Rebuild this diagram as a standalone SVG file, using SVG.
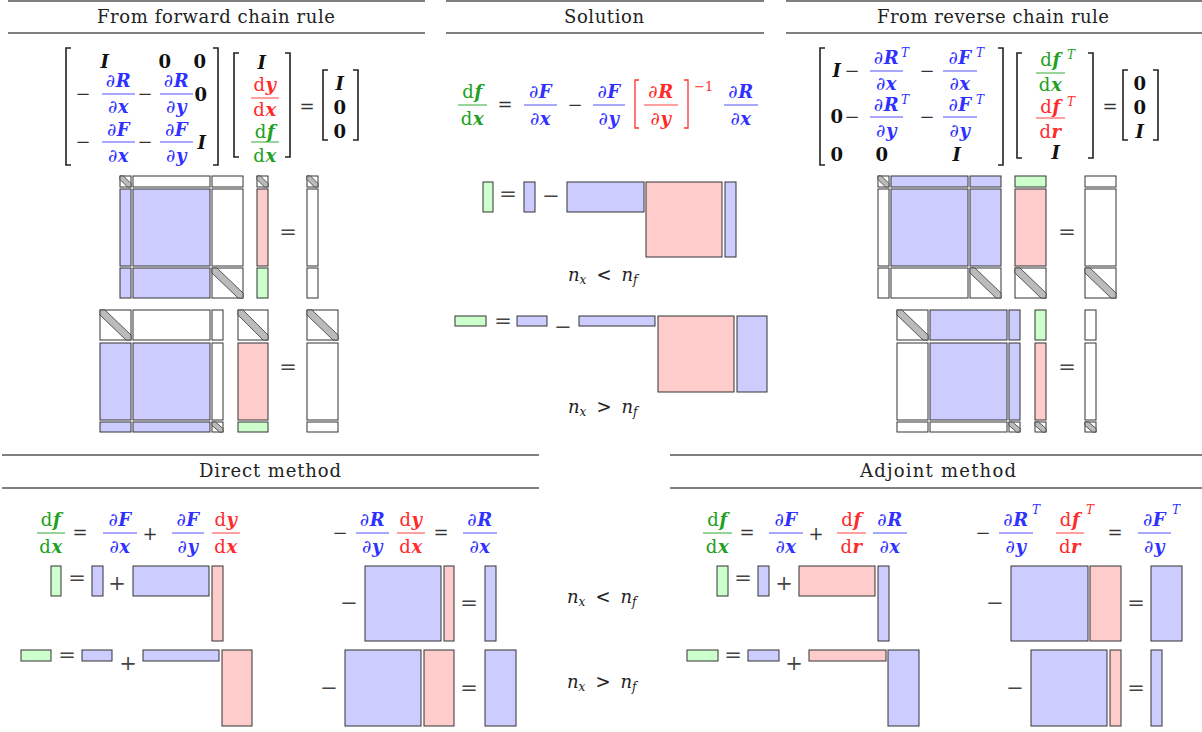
<svg xmlns="http://www.w3.org/2000/svg" width="1202" height="732" viewBox="0 0 1202 732">
<style>
rect{stroke:#333;stroke-width:1}
.bl{fill:#ccccff}.rd{fill:#ffcccc}.gr{fill:#ccffcc}.wh{fill:#fff}
.dg{fill:#bbb;stroke:#333;stroke-width:0.8}
.hl{stroke:#555;stroke-width:1.4}
.hd{font-family:"DejaVu Serif",serif;font-size:18px;fill:#222;text-anchor:middle}
.m{font-family:"DejaVu Serif",serif;font-size:18px;text-anchor:middle;letter-spacing:0.5px}
.bi{font-weight:bold;font-style:italic}
.bo{font-weight:bold}
.k{fill:#111}.tb{fill:#3030ff}.tr{fill:#ff2a2a}.tg{fill:#22a022}
.sp{font-family:"DejaVu Serif",serif;font-size:12px;font-style:italic}
.fb{stroke:#5050ff;stroke-width:1}.fr{stroke:#ff4040;stroke-width:1}.fg{stroke:#33aa33;stroke-width:1}
.om{font-family:"DejaVu Serif",serif;font-size:18px;fill:#333;text-anchor:middle}
.ob{font-family:"DejaVu Serif",serif;font-size:21px;fill:#444;text-anchor:middle}
.brk{fill:none;stroke:#222;stroke-width:1.6}
.nl{font-family:"DejaVu Serif",serif;font-size:18px;font-style:italic;fill:#222}
.ss{font-size:12px}
</style>

<g id="headers">
<line class="hl" x1="8" y1="1" x2="425" y2="1"/><line class="hl" x1="8" y1="33" x2="425" y2="33"/>
<text class="hd" x="216" y="23" textLength="238" lengthAdjust="spacing">From forward chain rule</text>
<line class="hl" x1="446" y1="1" x2="764" y2="1"/><line class="hl" x1="446" y1="33" x2="764" y2="33"/>
<text class="hd" x="604" y="23" textLength="80" lengthAdjust="spacing">Solution</text>
<line class="hl" x1="786" y1="1" x2="1202" y2="1"/><line class="hl" x1="786" y1="33" x2="1202" y2="33"/>
<text class="hd" x="993" y="23" textLength="232" lengthAdjust="spacing">From reverse chain rule</text>
<line class="hl" x1="2" y1="455" x2="539" y2="455"/><line class="hl" x1="2" y1="488" x2="539" y2="488"/>
<text class="hd" x="270" y="477" textLength="142" lengthAdjust="spacing">Direct method</text>
<line class="hl" x1="670" y1="455" x2="1202" y2="455"/><line class="hl" x1="670" y1="488" x2="1202" y2="488"/>
<text class="hd" x="938" y="477" textLength="156" lengthAdjust="spacing">Adjoint method</text>
</g>

<g id="forward-equation">
<path class="brk" d="M71,48 H66 V165 H71"/><path class="brk" d="M213,48 H218 V165 H213"/>
<text class="m bi k" x="105" y="68">I</text>
<text class="m bo k" x="165" y="68">0</text><text class="m bo k" x="200" y="68">0</text>
<text class="om" x="83" y="100">−</text>
<text class="m tb" x="118.5" y="87">∂<tspan class="bi">R</tspan></text><line class="fb" x1="102" y1="94" x2="135" y2="94"/><text class="m tb" x="118.5" y="113">∂<tspan class="bi">x</tspan></text>
<text class="om" x="145" y="100">−</text>
<text class="m tb" x="176.5" y="87">∂<tspan class="bi">R</tspan></text><line class="fb" x1="160" y1="94" x2="193" y2="94"/><text class="m tb" x="176.5" y="113">∂<tspan class="bi">y</tspan></text>
<text class="m bo k" x="201" y="101">0</text>
<text class="om" x="83" y="148">−</text>
<text class="m tb" x="118.5" y="136">∂<tspan class="bi">F</tspan></text><line class="fb" x1="102" y1="142" x2="135" y2="142"/><text class="m tb" x="118.5" y="162">∂<tspan class="bi">x</tspan></text>
<text class="om" x="145" y="148">−</text>
<text class="m tb" x="176.5" y="136">∂<tspan class="bi">F</tspan></text><line class="fb" x1="160" y1="142" x2="193" y2="142"/><text class="m tb" x="176.5" y="162">∂<tspan class="bi">y</tspan></text>
<text class="m bi k" x="202" y="149">I</text>
<path class="brk" d="M239,53 H234 V157 H239"/><path class="brk" d="M285,53 H290 V157 H285"/>
<text class="m bi k" x="262" y="69">I</text>
<text class="m tr" x="265" y="91">d<tspan class="bi">y</tspan></text><line class="fr" x1="251" y1="98" x2="279" y2="98"/><text class="m tr" x="265" y="116">d<tspan class="bi">x</tspan></text>
<text class="m tg" x="265" y="138">d<tspan class="bi">f</tspan></text><line class="fg" x1="251" y1="142" x2="279" y2="142"/><text class="m tg" x="265" y="162">d<tspan class="bi">x</tspan></text>
<text class="om" x="307" y="113">=</text>
<path class="brk" d="M328,70 H323 V140 H328"/><path class="brk" d="M353,70 H358 V140 H353"/>
<text class="m bi k" x="340" y="90">I</text><text class="m bo k" x="340" y="114">0</text><text class="m bo k" x="340" y="138">0</text>
</g>

<g id="solution-equation">
<text class="m tg" x="472.5" y="98">d<tspan class="bi">f</tspan></text><line class="fg" x1="458" y1="105" x2="487" y2="105"/><text class="m tg" x="472.5" y="125">d<tspan class="bi">x</tspan></text>
<text class="om" x="505" y="111">=</text>
<text class="m tb" x="540.5" y="98">∂<tspan class="bi">F</tspan></text><line class="fb" x1="524" y1="105" x2="557" y2="105"/><text class="m tb" x="540.5" y="125">∂<tspan class="bi">x</tspan></text>
<text class="om" x="575" y="111">−</text>
<text class="m tb" x="609" y="98">∂<tspan class="bi">F</tspan></text><line class="fb" x1="593" y1="105" x2="625" y2="105"/><text class="m tb" x="609" y="125">∂<tspan class="bi">y</tspan></text>
<path d="M639,80 H635 V128 H639" fill="none" stroke="#ff3030" stroke-width="1.3"/><path d="M684,80 H688 V128 H684" fill="none" stroke="#ff3030" stroke-width="1.3"/>
<text class="m tr" x="661" y="98">∂<tspan class="bi">R</tspan></text><line class="fr" x1="644" y1="105" x2="678" y2="105"/><text class="m tr" x="661" y="125">∂<tspan class="bi">y</tspan></text>
<text x="694" y="91" font-family="DejaVu Serif, serif" font-size="13" class="tr">−1</text>
<text class="m tb" x="741" y="98">∂<tspan class="bi">R</tspan></text><line class="fb" x1="724" y1="105" x2="758" y2="105"/><text class="m tb" x="741" y="125">∂<tspan class="bi">x</tspan></text>
</g>

<g id="reverse-equation">
<path class="brk" d="M825,48 H820 V165 H825"/><path class="brk" d="M998,48 H1003 V165 H998"/>
<text class="m bi k" x="837" y="77">I</text><text class="om" x="852" y="77">−</text>
<text class="m tb" x="886.5" y="64">∂<tspan class="bi">R</tspan></text><text class="sp tb" x="901" y="57">T</text><line class="fb" x1="870" y1="71" x2="903" y2="71"/><text class="m tb" x="886.5" y="90">∂<tspan class="bi">x</tspan></text>
<text class="om" x="927" y="77">−</text>
<text class="m tb" x="960" y="64">∂<tspan class="bi">F</tspan></text><text class="sp tb" x="976" y="57">T</text><line class="fb" x1="943" y1="71" x2="977" y2="71"/><text class="m tb" x="960" y="90">∂<tspan class="bi">x</tspan></text>
<text class="m bo k" x="837" y="123">0</text><text class="om" x="852" y="123">−</text>
<text class="m tb" x="886.5" y="111">∂<tspan class="bi">R</tspan></text><text class="sp tb" x="901" y="104">T</text><line class="fb" x1="870" y1="117" x2="903" y2="117"/><text class="m tb" x="886.5" y="137">∂<tspan class="bi">y</tspan></text>
<text class="om" x="927" y="123">−</text>
<text class="m tb" x="960" y="111">∂<tspan class="bi">F</tspan></text><text class="sp tb" x="976" y="104">T</text><line class="fb" x1="943" y1="117" x2="977" y2="117"/><text class="m tb" x="960" y="137">∂<tspan class="bi">y</tspan></text>
<text class="m bo k" x="837" y="161">0</text><text class="m bo k" x="882" y="161">0</text><text class="m bi k" x="957" y="161">I</text>
<path class="brk" d="M1022,53 H1017 V158 H1022"/><path class="brk" d="M1088,53 H1093 V158 H1088"/>
<text class="m tg" x="1050.5" y="66">d<tspan class="bi">f</tspan></text><text class="sp tg" x="1067" y="59">T</text><line class="fg" x1="1036" y1="73" x2="1065" y2="73"/><text class="m tg" x="1050.5" y="91">d<tspan class="bi">x</tspan></text>
<text class="m tr" x="1050.5" y="113">d<tspan class="bi">f</tspan></text><text class="sp tr" x="1067" y="106">T</text><line class="fr" x1="1036" y1="118" x2="1065" y2="118"/><text class="m tr" x="1050.5" y="138">d<tspan class="bi">r</tspan></text>
<text class="m bi k" x="1056" y="159">I</text>
<text class="om" x="1110" y="113">=</text>
<path class="brk" d="M1128,70 H1123 V140 H1128"/><path class="brk" d="M1153,70 H1158 V140 H1153"/>
<text class="m bo k" x="1140" y="90">0</text><text class="m bo k" x="1140" y="114">0</text><text class="m bi k" x="1140" y="138">I</text>
</g>

<g id="forward-blocks">
<rect class="wh" x="120" y="176" width="11" height="11"/><polygon class="dg" points="120,176 123.5,176 131,183.5 131,187 127.5,187 120,179.5"/>
<rect class="wh" x="133" y="176" width="77" height="11"/><rect class="wh" x="212" y="176" width="31" height="11"/>
<rect class="wh" x="257" y="176" width="11" height="11"/><polygon class="dg" points="257,176 260.5,176 268,183.5 268,187 264.5,187 257,179.5"/>
<rect class="wh" x="307" y="176" width="11" height="11"/><polygon class="dg" points="307,176 310.5,176 318,183.5 318,187 314.5,187 307,179.5"/>
<rect class="bl" x="120" y="189" width="11" height="77"/><rect class="bl" x="133" y="189" width="77" height="77"/><rect class="wh" x="212" y="189" width="31" height="77"/>
<rect class="rd" x="257" y="189" width="11" height="77"/><rect class="wh" x="307" y="189" width="11" height="77"/>
<rect class="bl" x="120" y="268" width="11" height="30"/><rect class="bl" x="133" y="268" width="77" height="30"/>
<rect class="wh" x="212" y="268" width="31" height="30"/><polygon class="dg" points="212,268 217,268 243,293 243,298 238,298 212,273"/>
<rect class="gr" x="257" y="268" width="11" height="30"/><rect class="wh" x="307" y="268" width="11" height="30"/>
<text class="ob" x="288" y="239">=</text>

<rect class="wh" x="100" y="310" width="31" height="30"/><polygon class="dg" points="100,310 105,310 131,335 131,340 126,340 100,315"/>
<rect class="wh" x="133" y="310" width="77" height="30"/><rect class="wh" x="212" y="310" width="11" height="30"/>
<rect class="wh" x="238" y="310" width="30" height="30"/><polygon class="dg" points="238,310 243,310 268,335 268,340 263,340 238,315"/>
<rect class="wh" x="307" y="310" width="31" height="30"/><polygon class="dg" points="307,310 312,310 338,335 338,340 333,340 307,315"/>
<rect class="bl" x="100" y="343" width="31" height="77"/><rect class="bl" x="133" y="343" width="77" height="77"/><rect class="wh" x="212" y="343" width="11" height="77"/>
<rect class="rd" x="238" y="343" width="30" height="77"/><rect class="wh" x="307" y="343" width="31" height="77"/>
<rect class="bl" x="100" y="422" width="31" height="10"/><rect class="bl" x="133" y="422" width="77" height="10"/>
<rect class="wh" x="212" y="422" width="11" height="10"/><polygon class="dg" points="212,422 215.5,422 223,428.5 223,432 219.5,432 212,425.5"/>
<rect class="gr" x="238" y="422" width="30" height="10"/><rect class="wh" x="307" y="422" width="31" height="10"/>
<text class="ob" x="288" y="374">=</text>
</g>

<g id="solution-blocks">
<rect class="gr" x="483" y="182" width="10" height="30"/>
<text class="ob" x="508" y="201">=</text>
<rect class="bl" x="524" y="182" width="11" height="30"/>
<text class="ob" x="551" y="203">−</text>
<rect class="bl" x="567" y="182" width="77" height="30"/>
<rect class="rd" x="646" y="182" width="76" height="75"/>
<rect class="bl" x="725" y="182" width="11" height="75"/>
<text class="nl" x="568" y="281">n<tspan class="ss" dy="3">x</tspan><tspan dy="-3" dx="10" font-style="normal">&lt;</tspan><tspan dx="10">n</tspan><tspan class="ss" dy="3">f</tspan></text>
<rect class="gr" x="455" y="316" width="31" height="10"/>
<text class="ob" x="503" y="328">=</text>
<rect class="bl" x="517" y="316" width="30" height="10"/>
<text class="ob" x="563" y="334">−</text>
<rect class="bl" x="579" y="316" width="76" height="10"/>
<rect class="rd" x="658" y="316" width="76" height="76"/>
<rect class="bl" x="737" y="316" width="30" height="76"/>
<text class="nl" x="568" y="413">n<tspan class="ss" dy="3">x</tspan><tspan dy="-3" dx="10" font-style="normal">&gt;</tspan><tspan dx="10">n</tspan><tspan class="ss" dy="3">f</tspan></text>
</g>

<g id="reverse-blocks">
<rect class="wh" x="878" y="176" width="11" height="11"/><polygon class="dg" points="878,176 881.5,176 889,183.5 889,187 885.5,187 878,179.5"/>
<rect class="bl" x="891" y="176" width="77" height="11"/><rect class="bl" x="970" y="176" width="31" height="11"/>
<rect class="gr" x="1015" y="176" width="31" height="11"/><rect class="wh" x="1085" y="176" width="31" height="11"/>
<rect class="wh" x="878" y="189" width="11" height="77"/><rect class="bl" x="891" y="189" width="77" height="77"/><rect class="bl" x="970" y="189" width="31" height="77"/>
<rect class="rd" x="1015" y="189" width="31" height="77"/><rect class="wh" x="1085" y="189" width="31" height="77"/>
<rect class="wh" x="878" y="268" width="11" height="30"/><rect class="wh" x="891" y="268" width="77" height="30"/>
<rect class="wh" x="970" y="268" width="31" height="30"/><polygon class="dg" points="970,268 975,268 1001,293 1001,298 996,298 970,273"/>
<rect class="wh" x="1015" y="268" width="31" height="30"/><polygon class="dg" points="1015,268 1020,268 1046,293 1046,298 1041,298 1015,273"/>
<rect class="wh" x="1085" y="268" width="31" height="30"/><polygon class="dg" points="1085,268 1090,268 1116,293 1116,298 1111,298 1085,273"/>
<text class="ob" x="1067" y="239">=</text>

<rect class="wh" x="897" y="310" width="31" height="30"/><polygon class="dg" points="897,310 902,310 928,335 928,340 923,340 897,315"/>
<rect class="bl" x="930" y="310" width="77" height="30"/><rect class="bl" x="1009" y="310" width="11" height="30"/>
<rect class="gr" x="1035" y="310" width="11" height="30"/><rect class="wh" x="1085" y="310" width="11" height="30"/>
<rect class="wh" x="897" y="343" width="31" height="77"/><rect class="bl" x="930" y="343" width="77" height="77"/><rect class="bl" x="1009" y="343" width="11" height="77"/>
<rect class="rd" x="1035" y="343" width="11" height="77"/><rect class="wh" x="1085" y="343" width="11" height="77"/>
<rect class="wh" x="897" y="422" width="31" height="10"/><rect class="wh" x="930" y="422" width="77" height="10"/>
<rect class="wh" x="1009" y="422" width="11" height="10"/><polygon class="dg" points="1009,422 1012.5,422 1020,428.5 1020,432 1016.5,432 1009,425.5"/>
<rect class="wh" x="1035" y="422" width="11" height="10"/><polygon class="dg" points="1035,422 1038.5,422 1046,428.5 1046,432 1042.5,432 1035,425.5"/>
<rect class="wh" x="1085" y="422" width="11" height="10"/><polygon class="dg" points="1085,422 1088.5,422 1096,428.5 1096,432 1092.5,432 1085,425.5"/>
<text class="ob" x="1067" y="374">=</text>
</g>

<g id="direct-method">
<text class="m tg" x="51" y="526">d<tspan class="bi">f</tspan></text><line class="fg" x1="37" y1="533" x2="65" y2="533"/><text class="m tg" x="51" y="553">d<tspan class="bi">x</tspan></text>
<text class="om" x="80" y="539">=</text>
<text class="m tb" x="120" y="526">∂<tspan class="bi">F</tspan></text><line class="fb" x1="103" y1="533" x2="137" y2="533"/><text class="m tb" x="120" y="553">∂<tspan class="bi">x</tspan></text>
<text class="om" x="150" y="540">+</text>
<text class="m tb" x="188" y="526">∂<tspan class="bi">F</tspan></text><line class="fb" x1="172" y1="533" x2="204" y2="533"/><text class="m tb" x="188" y="553">∂<tspan class="bi">y</tspan></text>
<text class="m tr" x="226" y="526">d<tspan class="bi">y</tspan></text><line class="fr" x1="212" y1="533" x2="240" y2="533"/><text class="m tr" x="226" y="553">d<tspan class="bi">x</tspan></text>

<rect class="gr" x="51" y="566" width="10" height="30"/>
<text class="ob" x="77" y="585">=</text>
<rect class="bl" x="92" y="566" width="11" height="30"/>
<text class="ob" x="117" y="590">+</text>
<rect class="bl" x="133" y="566" width="76" height="30"/>
<rect class="rd" x="212" y="566" width="11" height="75"/>
<rect class="gr" x="21" y="650" width="30" height="11"/>
<text class="ob" x="67" y="662">=</text>
<rect class="bl" x="82" y="650" width="30" height="11"/>
<text class="ob" x="128" y="670">+</text>
<rect class="bl" x="143" y="650" width="76" height="11"/>
<rect class="rd" x="222" y="650" width="30" height="76"/>

<text class="om" x="340" y="539">−</text>
<text class="m tb" x="372.5" y="526">∂<tspan class="bi">R</tspan></text><line class="fb" x1="356" y1="533" x2="389" y2="533"/><text class="m tb" x="372.5" y="553">∂<tspan class="bi">y</tspan></text>
<text class="m tr" x="411" y="526">d<tspan class="bi">y</tspan></text><line class="fr" x1="397" y1="533" x2="425" y2="533"/><text class="m tr" x="411" y="553">d<tspan class="bi">x</tspan></text>
<text class="om" x="441" y="539">=</text>
<text class="m tb" x="480" y="526">∂<tspan class="bi">R</tspan></text><line class="fb" x1="463" y1="533" x2="497" y2="533"/><text class="m tb" x="480" y="553">∂<tspan class="bi">x</tspan></text>

<text class="ob" x="349" y="610">−</text>
<rect class="bl" x="365" y="566" width="76" height="75"/><rect class="rd" x="444" y="566" width="10" height="75"/>
<text class="ob" x="469" y="610">=</text>
<rect class="bl" x="485" y="566" width="11" height="75"/>
<text class="ob" x="329" y="695">−</text>
<rect class="bl" x="345" y="650" width="76" height="76"/><rect class="rd" x="424" y="650" width="30" height="76"/>
<text class="ob" x="469" y="695">=</text>
<rect class="bl" x="485" y="650" width="31" height="76"/>
</g>

<g id="size-labels">
<text class="nl" x="567" y="603">n<tspan class="ss" dy="3">x</tspan><tspan dy="-3" dx="10" font-style="normal">&lt;</tspan><tspan dx="10">n</tspan><tspan class="ss" dy="3">f</tspan></text>
<text class="nl" x="567" y="688">n<tspan class="ss" dy="3">x</tspan><tspan dy="-3" dx="10" font-style="normal">&gt;</tspan><tspan dx="10">n</tspan><tspan class="ss" dy="3">f</tspan></text>
</g>

<g id="adjoint-method">
<text class="m tg" x="717.5" y="526">d<tspan class="bi">f</tspan></text><line class="fg" x1="703" y1="533" x2="732" y2="533"/><text class="m tg" x="717.5" y="553">d<tspan class="bi">x</tspan></text>
<text class="om" x="747" y="539">=</text>
<text class="m tb" x="786" y="526">∂<tspan class="bi">F</tspan></text><line class="fb" x1="769" y1="533" x2="803" y2="533"/><text class="m tb" x="786" y="553">∂<tspan class="bi">x</tspan></text>
<text class="om" x="816" y="540">+</text>
<text class="m tr" x="851.5" y="526">d<tspan class="bi">f</tspan></text><line class="fr" x1="837" y1="533" x2="866" y2="533"/><text class="m tr" x="851.5" y="553">d<tspan class="bi">r</tspan></text>
<text class="m tb" x="890" y="526">∂<tspan class="bi">R</tspan></text><line class="fb" x1="873" y1="533" x2="907" y2="533"/><text class="m tb" x="890" y="553">∂<tspan class="bi">x</tspan></text>

<rect class="gr" x="717" y="566" width="11" height="30"/>
<text class="ob" x="743" y="585">=</text>
<rect class="bl" x="758" y="566" width="11" height="30"/>
<text class="ob" x="784" y="590">+</text>
<rect class="rd" x="799" y="566" width="76" height="30"/>
<rect class="bl" x="878" y="566" width="11" height="75"/>
<rect class="gr" x="687" y="650" width="31" height="11"/>
<text class="ob" x="733" y="662">=</text>
<rect class="bl" x="748" y="650" width="31" height="11"/>
<text class="ob" x="794" y="670">+</text>
<rect class="rd" x="809" y="650" width="77" height="11"/>
<rect class="bl" x="888" y="650" width="31" height="76"/>

<text class="om" x="983" y="539">−</text>
<text class="m tb" x="1016" y="526">∂<tspan class="bi">R</tspan></text><text class="sp tb" x="1032" y="514">T</text><line class="fb" x1="999" y1="533" x2="1033" y2="533"/><text class="m tb" x="1016" y="553">∂<tspan class="bi">y</tspan></text>
<text class="m tr" x="1070" y="526">d<tspan class="bi">f</tspan></text><text class="sp tr" x="1086" y="514">T</text><line class="fr" x1="1056" y1="533" x2="1084" y2="533"/><text class="m tr" x="1070" y="553">d<tspan class="bi">r</tspan></text>
<text class="om" x="1115" y="539">=</text>
<text class="m tb" x="1154.5" y="526">∂<tspan class="bi">F</tspan></text><text class="sp tb" x="1172" y="514">T</text><line class="fb" x1="1138" y1="533" x2="1171" y2="533"/><text class="m tb" x="1154.5" y="553">∂<tspan class="bi">y</tspan></text>

<text class="ob" x="995" y="610">−</text>
<rect class="bl" x="1011" y="566" width="77" height="75"/><rect class="rd" x="1090" y="566" width="31" height="75"/>
<text class="ob" x="1136" y="610">=</text>
<rect class="bl" x="1151" y="566" width="31" height="75"/>
<text class="ob" x="1015" y="695">−</text>
<rect class="bl" x="1031" y="650" width="76" height="76"/><rect class="rd" x="1110" y="650" width="11" height="76"/>
<text class="ob" x="1136" y="695">=</text>
<rect class="bl" x="1151" y="650" width="11" height="76"/>
</g>
</svg>
